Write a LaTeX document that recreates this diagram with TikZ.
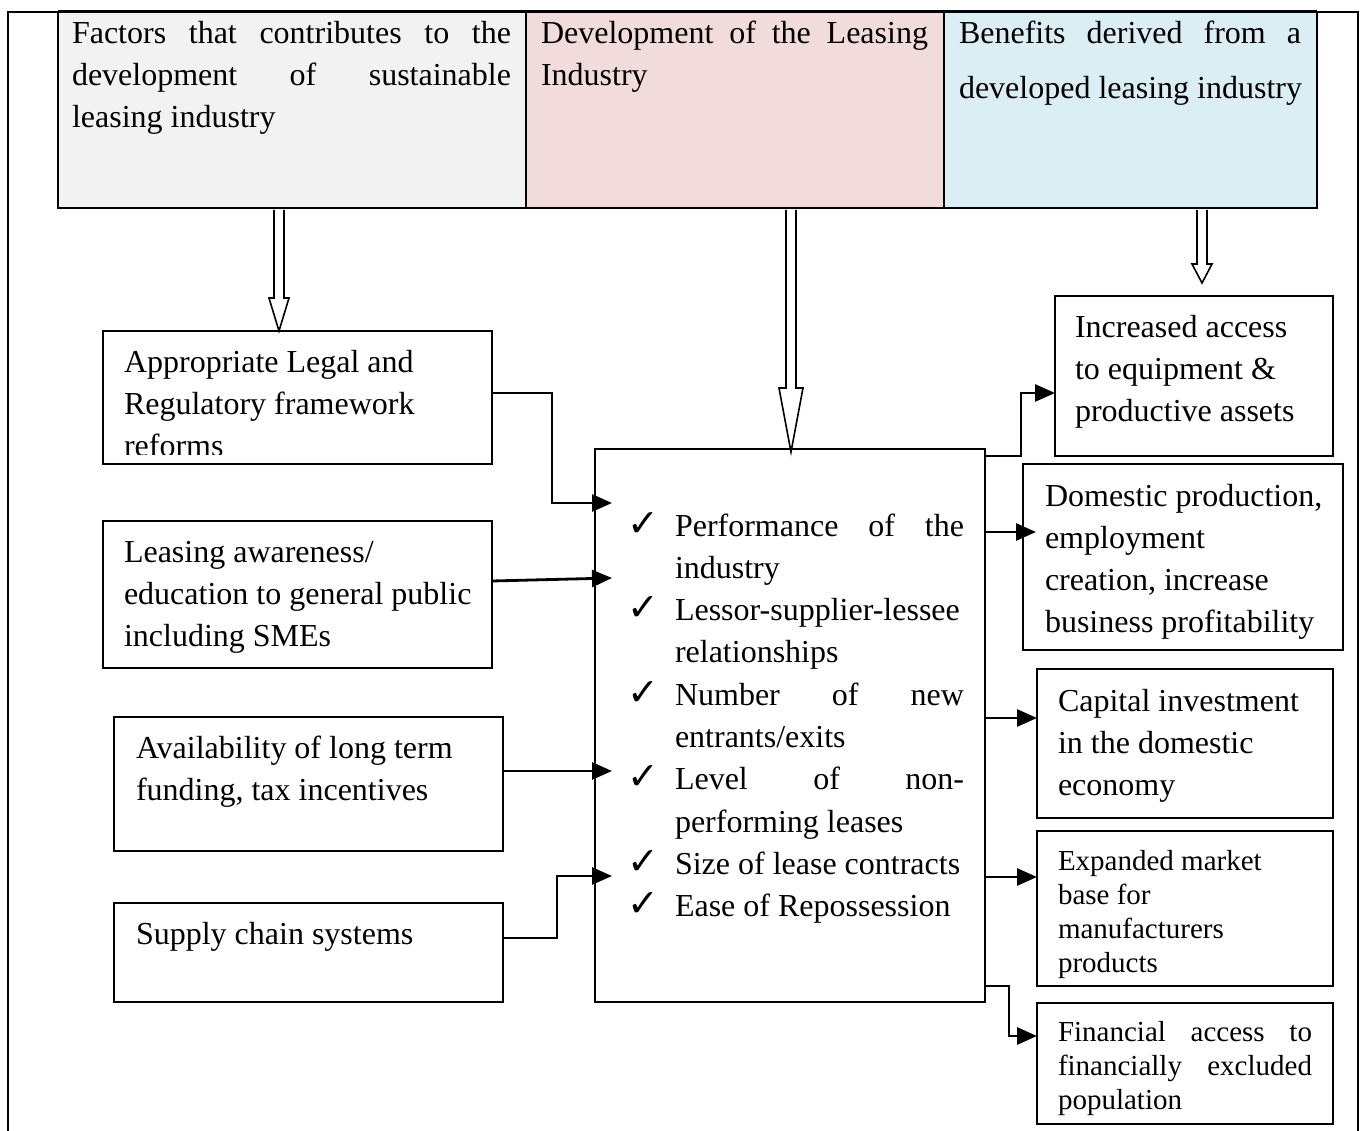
\documentclass[tikz,border=0pt]{standalone}
\usepackage{fontspec}
\setmainfont{Liberation Serif}
\newfontfamily\chkfont{DejaVu Sans}
\usetikzlibrary{arrows.meta}
\definecolor{hgray}{HTML}{F2F2F2}
\definecolor{hpink}{HTML}{F2DCDB}
\definecolor{hblue}{HTML}{DAEEF3}
\newcommand\ck{\makebox[46pt][l]{\smash{\hspace*{-2pt}\chkfont\fontsize{38}{38}\selectfont ✓}}}
\newcommand\ind{\hspace*{46pt}}
\newcommand\jl[2]{\makebox[#1pt][s]{#2}}
\begin{document}
\begin{tikzpicture}[x=1pt,y=-1pt,
  box/.style={draw,line width=1.8pt,anchor=north west,inner sep=0pt,outer sep=0pt},
  hbox/.style={draw,line width=2.2pt,anchor=north west,inner sep=0pt,outer sep=0pt},
  txt/.style={anchor=north west,inner sep=0pt,outer sep=0pt,align=left,font=\fontsize{32}{42}\selectfont},
  stxt/.style={txt,font=\fontsize{29}{34}\selectfont},
  conn/.style={line width=2.8pt,-{Triangle[length=20pt,width=17pt]}},
  hollow/.style={draw,line width=1.6pt,fill=white,line join=miter}
]
\useasboundingbox (0,0) rectangle (1362,1131);
% outer frame
\draw[line width=2pt] (8,1135) -- (8,12) -- (1358,12) -- (1358,1135);
% header
\node[hbox,fill=hgray,minimum width=468pt,minimum height=196pt] (h1) at (58,12) {};
\node[hbox,fill=hpink,minimum width=418pt,minimum height=196pt] (h2) at (526,12) {};
\node[hbox,fill=hblue,minimum width=373pt,minimum height=196pt] (h3) at (944,12) {};
\draw[line width=3pt] (h1.north west) -- (h3.north east);
\node[txt] (h1t) at (72,14.6) {\strut\jl{439}{Factors that contributes to the}\\\jl{439}{development of sustainable}\\leasing industry};
\node[txt] (h2t) at (541,14.6) {\strut\jl{387}{Development of the Leasing}\\Industry};
\node[txt,font=\fontsize{32}{55}\selectfont] (h3t) at (959,5.5) {\strut\jl{342}{Benefits derived from a}\\developed leasing industry};
% hollow arrows
\draw[hollow] (274,210) -- (274,298) -- (269,298) -- (279,331) -- (289,298) -- (284,298) -- (284,210);
\draw[hollow] (786,210) -- (786,388) -- (779,388) -- (791,452) -- (803,388) -- (796,388) -- (796,210);
\draw[hollow] (1197,210) -- (1197,264) -- (1192,264) -- (1202,283) -- (1212,264) -- (1207,264) -- (1207,210);
% left boxes
\node[box,minimum width=389pt,minimum height=133pt] (A) at (103,331) {};
\begin{scope}
\clip (103,331) rectangle (492,454);
\node[txt] (At) at (124,342.6) {\strut Appropriate Legal and\\Regulatory framework\\reforms};
\end{scope}
\node[box,minimum width=389pt,minimum height=147pt] (B) at (103,521) {};
\node[txt] (Bt) at (124,532.6) {\strut Leasing awareness/\\education to general public\\including SMEs};
\node[box,minimum width=389pt,minimum height=134pt] (C) at (114,717) {};
\node[txt] (Ct) at (136,728.6) {\strut Availability of long term\\funding, tax incentives};
\node[box,minimum width=389pt,minimum height=99pt] (D) at (114,903) {};
\node[txt] (Dt) at (136,914.6) {\strut Supply chain systems};
% centre box
\node[box,minimum width=390pt,minimum height=553pt] (ctr) at (595,449) {};
\node[txt,font=\fontsize{32}{42.3}\selectfont] (ctrt) at (629,506.4) {\strut\ck\jl{289}{Performance of the}\\\ind industry\\\ck Lessor-supplier-lessee\\\ind relationships\\\ck\jl{289}{Number of new}\\\ind entrants/exits\\\ck\jl{289}{Level of non-}\\\ind performing leases\\\ck Size of lease contracts\\\ck Ease of Repossession};
% right boxes
\node[box,minimum width=278pt,minimum height=160pt] (R1) at (1055,296) {};
\node[txt] (R1t) at (1075,307.6) {\strut Increased access\\to equipment \&\\productive assets};
\node[box,minimum width=320pt,minimum height=186pt] (R2) at (1023,464) {};
\node[txt] (R2t) at (1045,476.6) {\strut Domestic production,\\employment\\creation, increase\\business profitability};
\node[box,minimum width=296pt,minimum height=149pt] (R3) at (1037,669) {};
\node[txt] (R3t) at (1058,681.6) {\strut Capital investment\\in the domestic\\economy};
\node[box,minimum width=296pt,minimum height=155pt] (R4) at (1037,831) {};
\node[stxt] (R4t) at (1058,846.2) {\strut Expanded market\\base for\\manufacturers\\products};
\node[box,minimum width=296pt,minimum height=121pt] (R5) at (1037,1003) {};
\node[stxt] (R5t) at (1058,1017.2) {\strut\jl{254}{Financial access to}\\\jl{254}{financially excluded}\\population};
% connectors left
\coordinate (tA) at (612,503);
\coordinate (tB) at (612,578);
\coordinate (tC) at (612,771);
\coordinate (tD) at (612,876);
\draw[conn] (A.east |- 0,393) -- (552,393) |- (tA);
\draw[conn] (B.east |- 0,581) -- (tB);
\draw[conn] (C.east |- 0,771) -- (tC);
\draw[conn] (D.east |- 0,938) -- (557,938) |- (tD);
% connectors right
\coordinate (tR2) at (1036,532);
\draw[conn] (ctr.east |- 0,456) -- (1021,456) |- (R1.west |- 0,393);
\draw[conn] (ctr.east |- 0,532) -- (tR2);
\draw[conn] (ctr.east |- 0,718) -- (R3.west |- 0,718);
\draw[conn] (ctr.east |- 0,877) -- (R4.west |- 0,877);
\draw[conn] (ctr.east |- 0,986) -- (1009,986) |- (R5.west |- 0,1036);
\end{tikzpicture}
\end{document}
